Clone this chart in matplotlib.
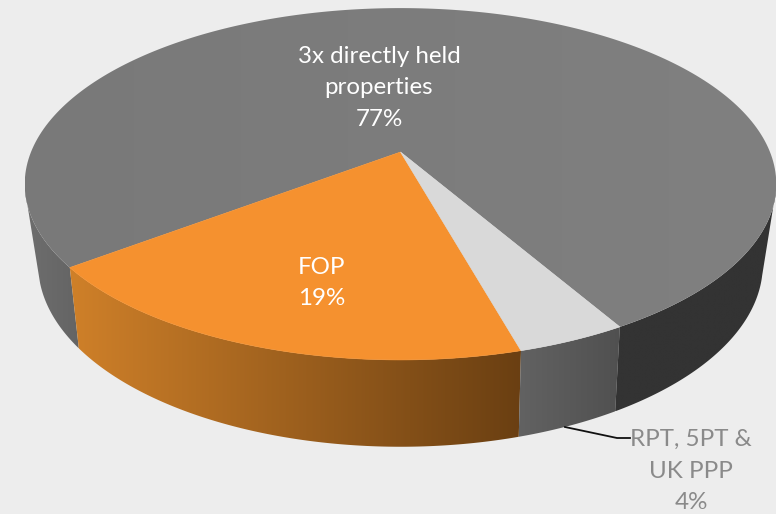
import numpy as np
import matplotlib
matplotlib.use("Agg")
import matplotlib.pyplot as plt
from matplotlib.colors import LinearSegmentedColormap
from matplotlib.patches import Polygon

# slice values, clockwise from the start angle
SHARES = [77, 19, 4]
LABELS = ["3x directly held\nproperties\n77%", "FOP\n19%", "RPT, 5PT &\nUK PPP\n4%"]

START_DEG = 30.0  # angle from the viewer-facing direction
BG = "#ededed"

# projection of the pie disc onto the 776x514 picture
CENTER_X, CENTER_Y = 400.5, 152.0
RADIUS_X, RADIUS_Y = 369.5, 170.1
PERSPECTIVE = 0.182
BOTTOM_Y, BOTTOM_RX, BOTTOM_RY = 228.0, 355.0, 175.0
BOTTOM_PERSPECTIVE = 0.2


def project(theta_deg, bottom=False):
    t = np.radians(theta_deg)
    u, v = np.sin(t), np.cos(t)
    if bottom:
        d = 1 - BOTTOM_PERSPECTIVE * v
        return np.column_stack([CENTER_X + BOTTOM_RX * u / d, BOTTOM_Y + BOTTOM_RY * v / d])
    d = 1 - PERSPECTIVE * v
    return np.column_stack([CENTER_X + RADIUS_X * u / d, CENTER_Y + RADIUS_Y * v / d])


def arc(a, b, bottom=False):
    return project(np.linspace(a, b, 240), bottom)


def fill_gradient(ax, pts, left, right, zorder):
    """Fill a polygon with a left-to-right colour gradient."""
    cmap = LinearSegmentedColormap.from_list("g", [left, right])
    grad = np.linspace(0, 1, 256).reshape(1, -1)
    x0, x1 = pts[:, 0].min(), pts[:, 0].max()
    y0, y1 = pts[:, 1].min(), pts[:, 1].max()
    im = ax.imshow(grad, cmap=cmap, extent=(x0, x1, y1, y0), aspect="auto",
                   interpolation="bilinear", zorder=zorder)
    patch = Polygon(pts, closed=True, transform=ax.transData, fc="none", ec="none")
    ax.add_patch(patch)
    im.set_clip_path(patch)


def wall(ax, a, b, left, right, a_low=None, b_low=None):
    a_low = a if a_low is None else a_low
    b_low = b if b_low is None else b_low
    pts = np.vstack([arc(a, b), arc(b_low, a_low, bottom=True)])
    fill_gradient(ax, pts, left, right, zorder=2)


fig = plt.figure(figsize=(7.76, 5.14), dpi=100, facecolor=BG)
ax = fig.add_axes([0, 0, 1, 1])
ax.set_axis_off()

edges = START_DEG + np.cumsum([0] + SHARES) * 3.6
big_a, big_b = edges[0], edges[1]
fop_a, fop_b = edges[1], edges[2]
small_a, small_b = edges[2], edges[3]

# side walls
wall(ax, big_b - 25, big_b, "#6e6e6e", "#646464", a_low=big_b - 20)
wall(ax, fop_a, fop_b, "#cf8029", "#6a3f12")
wall(ax, small_a, small_b, "#626262", "#505050")
wall(ax, big_a, big_a + 48, "#333333", "#333333", b_low=big_a + 45)

# top faces
center = np.array([[CENTER_X, CENTER_Y]])
fill_gradient(ax, np.vstack([center, arc(big_a, big_b)]), "#797979", "#808080", zorder=3)
ax.add_patch(Polygon(np.vstack([center, arc(fop_a, fop_b)]), fc="#f5912f", ec="#f5912f",
                     lw=0.4, zorder=4))
ax.add_patch(Polygon(np.vstack([center, arc(small_a, small_b)]), fc="#d9d9d9", ec="#d9d9d9",
                     lw=0.4, zorder=4))

# leader line of the small slice
ax.plot([565, 617, 630], [427, 438, 438], color="#111111", lw=1.3, zorder=5,
        solid_joinstyle="miter")

# labels
font = dict(family="Lato", fontsize=17.4, ha="center", va="center", zorder=6,
            linespacing=1.64)
ax.text(379, 88, LABELS[0], color="white", **font)
ax.text(322, 283, LABELS[1], color="white", **font)
ax.text(691, 471, LABELS[2], color="#8a8a8a", **font)

ax.set_xlim(0, 776)
ax.set_ylim(514, 0)

fig.savefig("out.png", dpi=100, facecolor=BG)
